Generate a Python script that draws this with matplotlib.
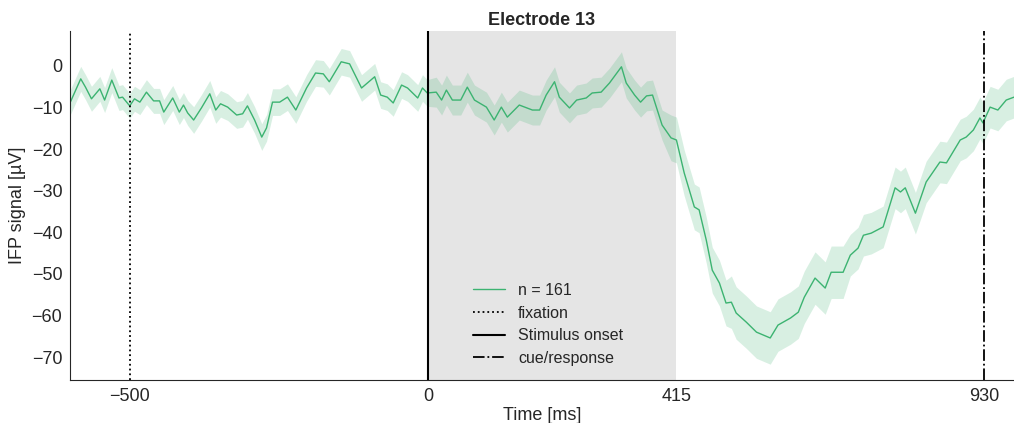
import numpy as np
import matplotlib
matplotlib.use("Agg")
import matplotlib.pyplot as plt
import seaborn as sns

# mean IFP trace (time in ms, signal in uV)
time_ms = [-600, -582, -574, -564, -550, -542, -530, -518, -512, -500,
           -492, -483, -472, -460, -450, -443, -428, -417, -410, -403,
           -393, -380, -366, -356, -348, -336, -321, -311, -303, -291,
           -279, -271, -261, -249, -236, -222, -204, -189, -176, -166,
           -146, -132, -112, -90, -80, -69, -59, -45, -35, -18,
           -10, -2, 13, 22, 30, 40, 54, 65, 77, 97,
           110, 122, 132, 152, 174, 186, 197, 211, 219, 236,
           248, 264, 274, 289, 303, 323, 331, 345, 355, 365,
           375, 391, 406, 415, 428, 445, 453, 465, 475, 487,
           498, 507, 515, 532, 549, 572, 585, 606, 619, 629,
           647, 664, 674, 694, 706, 719, 728, 741, 761, 781,
           790, 798, 815, 833, 856, 867, 890, 900, 912, 923,
           928, 940, 953, 967, 980]
signal = [-8.9, -3.1, -5.1, -7.9, -5.5, -8.2, -3.4, -7.7, -7.5, -9.6,
          -7.9, -8.7, -6.3, -8.4, -8.4, -11.1, -7.7, -11.1, -9.4, -11.3,
          -13.0, -10.1, -6.7, -10.6, -9.1, -9.9, -11.8, -11.5, -9.6, -13.0,
          -17.1, -14.9, -8.7, -8.7, -7.5, -10.6, -5.3, -1.7, -1.9, -3.8,
          1.0, 0.5, -5.3, -2.6, -7.0, -7.5, -8.9, -4.6, -5.3, -7.7,
          -5.3, -6.5, -6.3, -8.2, -5.8, -8.2, -8.2, -5.1, -8.2, -9.9,
          -13.0, -9.9, -12.3, -9.4, -10.6, -10.6, -7.0, -3.8, -7.5, -10.1,
          -8.2, -7.7, -6.5, -6.3, -4.1, -0.2, -4.1, -7.0, -8.7, -7.2,
          -7.0, -14.2, -17.3, -17.8, -25.7, -33.9, -34.6, -41.9, -49.1, -52.2,
          -57.0, -56.8, -59.4, -61.6, -64.0, -65.4, -62.3, -60.6, -59.2, -55.6,
          -51.0, -53.4, -49.6, -49.6, -45.5, -43.8, -40.7, -40.2, -38.7, -29.3,
          -30.3, -29.3, -35.4, -27.9, -23.1, -23.3, -17.8, -17.1, -15.4, -12.5,
          -13.7, -9.9, -10.6, -8.2, -7.5]

# half width of the shaded error band, by time segment
sem_edges = [-600, -400, 0, 400, 500, 700, 980]
sem_levels = [3.0, 3.2, 3.6, 5.5, 6.3, 5.0]

n_trials = 161
fixation_t = -500
onset_t = 0
stim_end_t = 415
cue_t = 930
xtick_vals = [-500, 0, 415, 930]
ytick_vals = [0, -10, -20, -30, -40, -50, -60, -70]

sns.set_style("white")
plt.rcParams['font.family'] = ['Liberation Sans', 'DejaVu Sans']

t = np.array(time_ms, dtype=float)
y = np.array(signal, dtype=float)
idx = np.clip(np.searchsorted(sem_edges, t, side="right") - 1, 0, len(sem_levels) - 1)
sem = np.array(sem_levels)[idx]

fig = plt.figure(figsize=(10.14, 4.23), dpi=100)
ax = fig.add_axes([0.069, 0.1017, 0.931, 0.825])

green = "mediumseagreen"
ax.axvspan(onset_t, stim_end_t, color="gray", alpha=0.2, lw=0)
ax.fill_between(t, y - sem, y + sem, color=green, alpha=0.2, lw=0)
ax.plot(t, y, color=green, lw=1.0, label=f"n = {n_trials}")
ax.axvline(fixation_t, color="k", ls=":", lw=1.3, label="fixation")
ax.axvline(onset_t, color="k", ls="-", lw=1.5, label="Stimulus onset")
ax.axvline(cue_t, color="k", ls="-.", lw=1.3, label="cue/response")

ax.set_xlim(-600, 980)
ax.set_ylim(-75.5, 8.4)
ax.set_xticks(xtick_vals)
ax.set_xticklabels([f"\u2212{abs(v)}" if v < 0 else str(v) for v in xtick_vals])
ax.set_yticks(ytick_vals)
ax.set_yticklabels([f"\u2212{abs(v)}" if v < 0 else str(v) for v in ytick_vals])
ax.tick_params(labelsize=13, colors=".15", pad=2)
ax.set_xlabel("Time [ms]", fontsize=13, color=".15", labelpad=2)
ax.set_ylabel("IFP signal [\u00b5V]", fontsize=13, color=".15", labelpad=4)
ax.set_title("Electrode 13", fontsize=13, fontweight="bold", color=".15", pad=4)
sns.despine(ax=ax)

ax.legend(loc="lower left", bbox_to_anchor=(0.412, 0.0), frameon=False,
          fontsize=11.5, handlelength=2.0, handletextpad=0.8, labelspacing=0.47)

fig.savefig("out.png", dpi=100)
